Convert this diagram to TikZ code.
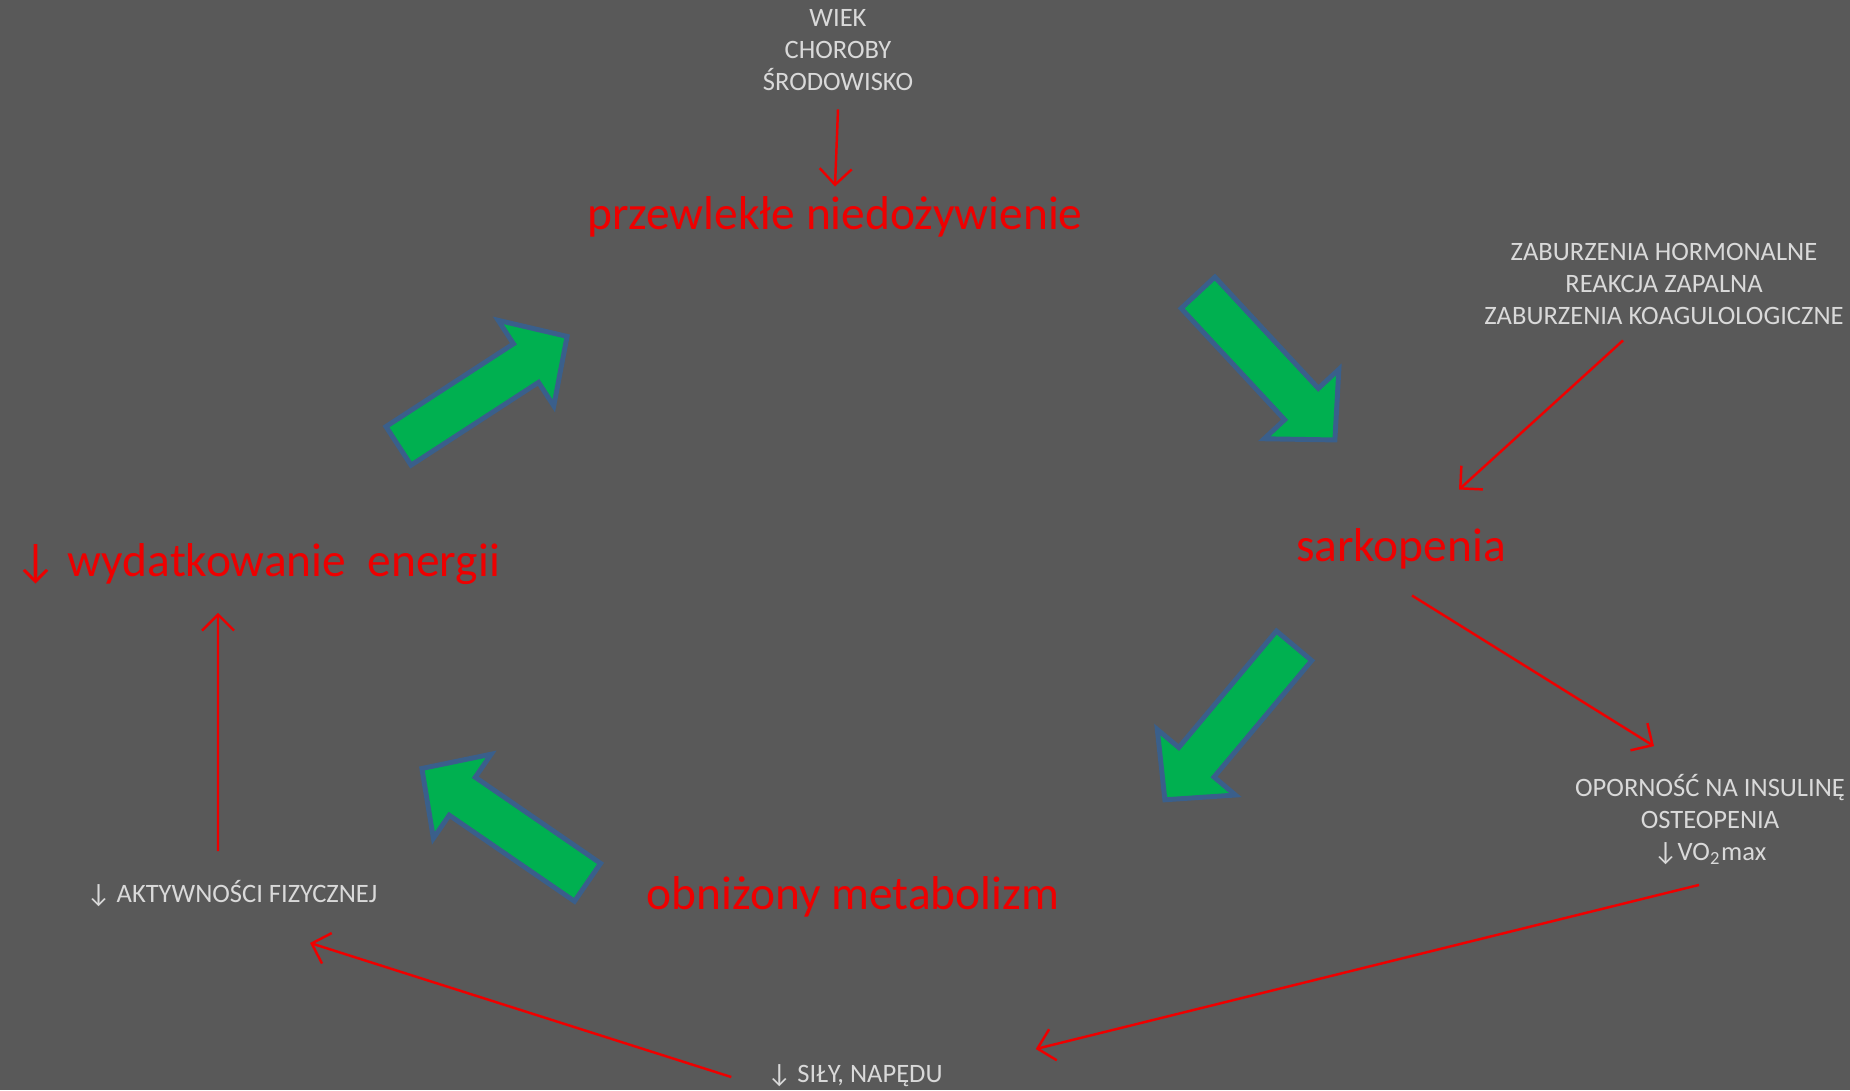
\documentclass[tikz,border=0pt]{standalone}
\usepackage{fontspec}
\setmainfont{Carlito}
\usepackage{tikz}
\usetikzlibrary{arrows.meta}
\definecolor{tlo}{HTML}{595959}
\definecolor{czerw}{HTML}{EE0000}
\definecolor{zielen}{HTML}{00B050}
\definecolor{obrys}{HTML}{3A5F8B}
\definecolor{jasny}{HTML}{D9D9D9}

\newcommand{\blokstrzalka}[2]{%
  \draw[zielona,shift={#1},rotate=#2] (0.03,-0.23) -- (1.55,-0.23) -- (1.55,-0.51)
    -- (2.04,0) -- (1.55,0.51) -- (1.55,0.23) -- (0.03,0.23) -- cycle;}

\begin{document}
\begin{tikzpicture}[>={Straight Barb[length=1.6mm,width=3.2mm]},
  duzy/.style={czerw,font=\fontsize{13.5}{16}\selectfont,inner sep=0pt},
  maly/.style={jasny,font=\fontsize{7.55}{9.1}\selectfont,align=center,inner sep=0pt},
  linia/.style={czerw,line width=0.7pt,->},
  zielona/.style={fill=zielen,draw=obrys,line width=1.4pt,line join=miter}]
  \fill[tlo] (0,0) rectangle (18.5,-10.9);

  \node[maly] (wiek) at (8.38,-0.50) {WIEK\\CHOROBY\\ŚRODOWISKO};
  \node[duzy] (niedoz) at (8.35,-2.165) {przewlekłe niedożywienie};
  \node[maly] (zabur) at (16.64,-2.84) {ZABURZENIA HORMONALNE\\REAKCJA ZAPALNA\\ZABURZENIA KOAGULOLOGICZNE};
  \node[duzy] (sarko) at (14.01,-5.49) {sarkopenia};
  \node[maly] (opor) at (17.10,-8.20) {OPORNOŚĆ NA INSULINĘ\\OSTEOPENIA\\↓VO\textsubscript{2}max};
  \node[maly] (sily) at (8.55,-10.76) {↓ SIŁY, NAPĘDU};
  \node[maly] (aktyw) at (2.32,-8.94) {↓ AKTYWNOŚCI FIZYCZNEJ};
  \node[duzy] (wydat) at (2.57,-5.64) {↓ wydatkowanie\ \ energii};
  \node[duzy] (metab) at (8.53,-8.97) {obniżony metabolizm};

  \blokstrzalka{(3.96,-4.475)}{33}
  \blokstrzalka{(11.96,-2.905)}{-47.1}
  \blokstrzalka{(12.96,-6.435)}{-130}
  \blokstrzalka{(5.90,-8.84)}{145.5}

  \draw[linia] ([yshift=-1.8mm]wiek.south) -- ([yshift=0.9mm]niedoz.north);
  \draw[linia] ([xshift=-4.1mm,yshift=-1.5mm]zabur.south) -- ([xshift=5.8mm,yshift=3.85mm]sarko.north);
  \draw[linia] ([xshift=1.1mm,yshift=-2.55mm]sarko.south) -- ([xshift=-5.6mm,yshift=2.8mm]opor.north);
  \draw[linia] ([xshift=-1.1mm,yshift=-1.9mm]opor.south) -- ([xshift=9.25mm,yshift=2.7mm]sily.east);
  \draw[linia] ([xshift=-3.55mm,yshift=-0.1mm]sily.west) -- ([xshift=7.8mm,yshift=-3.5mm]aktyw.south);
  \draw[linia] ([xshift=-1.4mm,yshift=2.9mm]aktyw.north) -- ([xshift=-3.9mm,yshift=-2.75mm]wydat.south);
\end{tikzpicture}
\end{document}
